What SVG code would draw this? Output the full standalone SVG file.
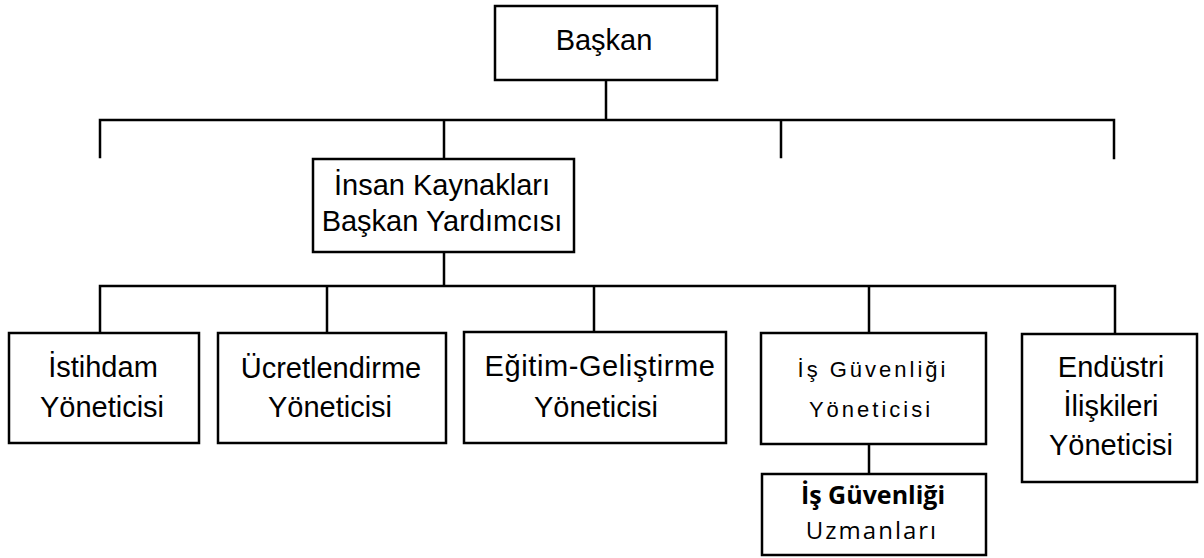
<svg xmlns="http://www.w3.org/2000/svg" width="1204" height="558" viewBox="0 0 1204 558">
  <style>
    .box { fill: #ffffff; stroke: #000000; stroke-width: 2.5; }
    .link { fill: none; stroke: #000000; stroke-width: 2.5; stroke-linecap: square; }
    .lbl { font-family: "Liberation Sans", Arial, sans-serif; font-size: 29px; fill: #000000; text-anchor: middle; }
    .spaced { font-family: "Liberation Sans", Arial, sans-serif; font-size: 22px; letter-spacing: 3px; fill: #000000; text-anchor: middle; }
    .hum-b { font-family: "Open Sans", "Noto Sans", sans-serif; font-size: 25px; font-weight: bold; fill: #000000; text-anchor: middle; }
    .hum { font-family: "Open Sans", "Noto Sans", sans-serif; font-size: 24px; letter-spacing: 2px; fill: #000000; text-anchor: middle; }
  </style>
  <rect width="1204" height="558" fill="#ffffff"/>

  <g id="connectors">
    <path class="link" d="M606 80 V120 M100 120 H1114 M100 120 V157 M444 120 V159 M781 120 V157 M1114 120 V158"/>
    <path class="link" d="M444 252 V286 M100 286 H1115 M100 286 V333 M327 286 V333 M594 286 V332 M869 286 V333 M1115 286 V334"/>
    <path class="link" d="M869 444 V474"/>
  </g>

  <g id="baskan">
    <rect class="box" x="495" y="6" width="222" height="74"/>
    <text class="lbl" x="604" y="50" font-size="28">Başkan</text>
  </g>

  <g id="ik-baskan-yardimcisi">
    <rect class="box" x="313" y="159" width="261" height="93"/>
    <text class="lbl" x="442" y="195">İnsan Kaynakları</text>
    <text class="lbl" x="442" y="231">Başkan Yardımcısı</text>
  </g>

  <g id="istihdam">
    <rect class="box" x="9" y="333" width="190" height="110"/>
    <text class="lbl" x="103" y="377" font-size="30">İstihdam</text>
    <text class="lbl" x="102" y="417" font-size="30">Yöneticisi</text>
  </g>

  <g id="ucretlendirme">
    <rect class="box" x="218" y="333" width="228" height="110"/>
    <text class="lbl" x="331" y="378" font-size="30">Ücretlendirme</text>
    <text class="lbl" x="330" y="417" font-size="30">Yöneticisi</text>
  </g>

  <g id="egitim-gelistirme">
    <rect class="box" x="464" y="332" width="262" height="111"/>
    <text class="lbl" x="600" y="376" font-size="30" letter-spacing="0.6">Eğitim-Geliştirme</text>
    <text class="lbl" x="596" y="417" font-size="30">Yöneticisi</text>
  </g>

  <g id="is-guvenligi-yoneticisi">
    <rect class="box" x="761" y="333" width="225" height="111"/>
    <text class="spaced" x="873" y="377">İş Güvenliği</text>
    <text class="spaced" x="871" y="417">Yöneticisi</text>
  </g>

  <g id="endustri-iliskileri">
    <rect class="box" x="1022" y="334" width="175" height="148"/>
    <text class="lbl" x="1111" y="377" font-size="30">Endüstri</text>
    <text class="lbl" x="1111" y="416" font-size="30">İlişkileri</text>
    <text class="lbl" x="1111" y="455" font-size="30">Yöneticisi</text>
  </g>

  <g id="is-guvenligi-uzmanlari">
    <rect class="box" x="762" y="474" width="224" height="81"/>
    <text class="hum-b" x="873" y="504">İş Güvenliği</text>
    <text class="hum" x="872" y="539">Uzmanları</text>
  </g>
</svg>
